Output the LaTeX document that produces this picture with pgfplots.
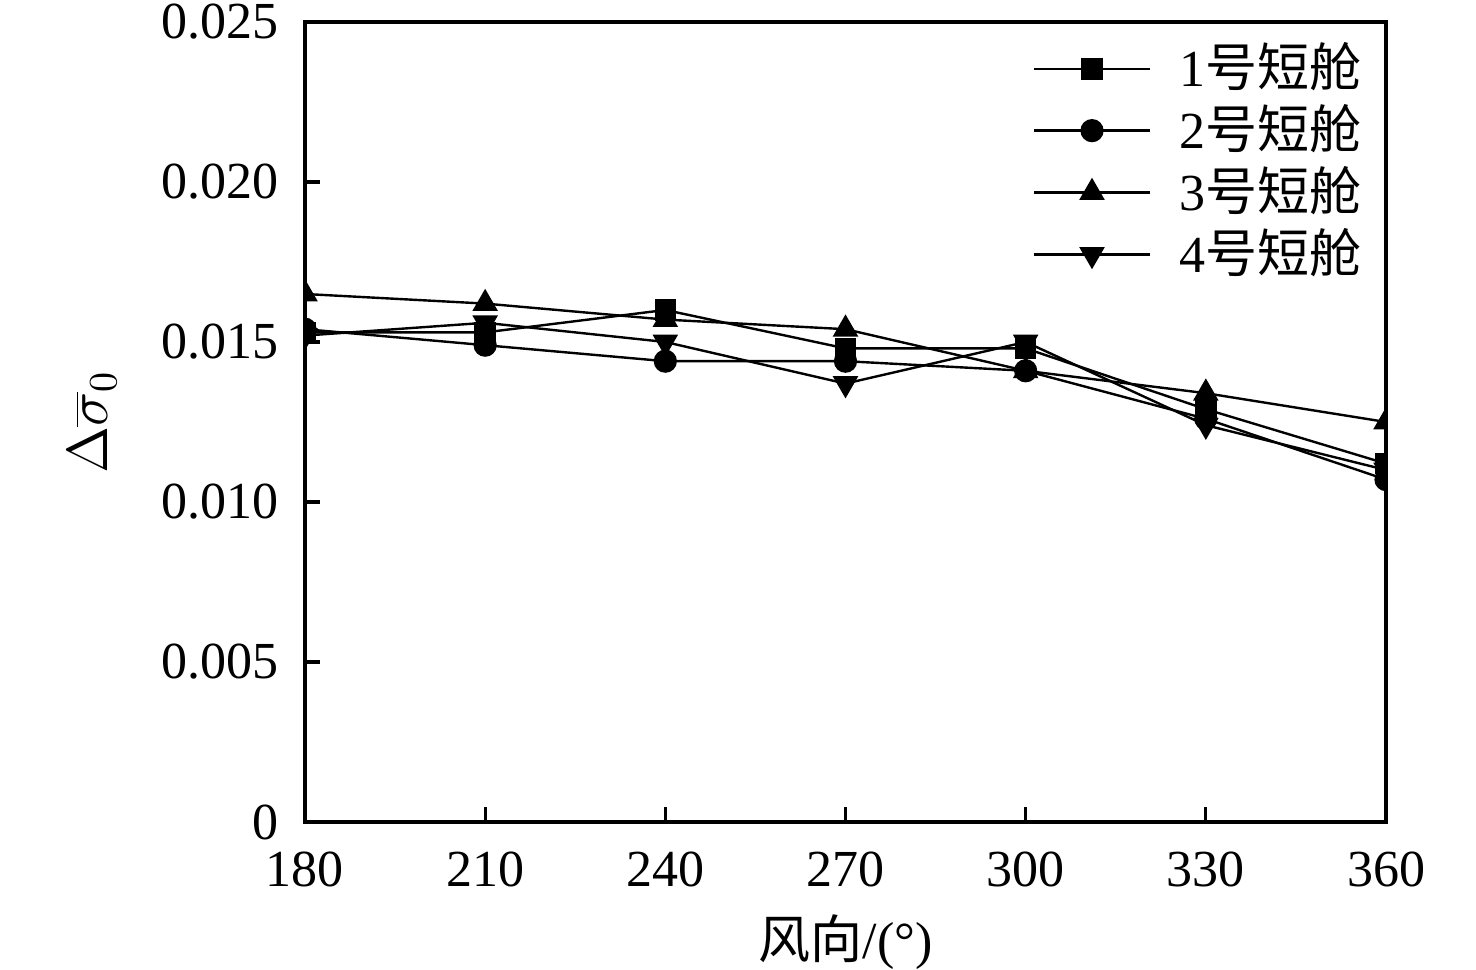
\documentclass[border=0pt]{standalone}
\usepackage{pgfplots}
\pgfplotsset{compat=1.18}
\usepackage{fontspec}
\setmainfont{Liberation Serif}
\newfontfamily\cjk{Noto Sans CJK SC}
\begin{document}
\fontsize{13}{15}\selectfont
\begin{tikzpicture}
\begin{axis}[
  at={(0,0)}, anchor=south west,
  scale only axis, width=270.25pt, height=200pt,
  xmin=180, xmax=360, ymin=0, ymax=0.025,
  xtick={180,210,240,270,300,330,360},
  xticklabels={180,210,240,270,300,330,360},
  ytick={0,0.005,0.010,0.015,0.020,0.025},
  yticklabels={0,0.005,0.010,0.015,0.020,0.025},
  scaled y ticks=false,
  tick align=inside, xtick pos=bottom, ytick pos=left,
  major tick length=3.75pt,
  clip marker paths=true, clip mode=individual,
  axis line style={line width=0.8pt}, tick style={line width=0.8pt, black},
  ticklabel style={font=\fontsize{13}{15}\selectfont},
  xticklabel style={yshift=-3pt},
  yticklabel style={xshift=-2pt},
  xlabel={{\cjk 风向}/(°)},
  ylabel={$\Delta\overline{\sigma}_0$},
  label style={font=\fontsize{13}{15}\selectfont},
  xlabel style={yshift=2pt},
  ylabel style={yshift=2.5pt, font=\fontsize{14}{16}\selectfont},
  every axis plot/.append style={black, line width=0.6pt, mark options={solid, fill=black}},
  legend cell align=left,
  legend style={at={(1,1)}, anchor=north east, xshift=-3pt, yshift=-2pt, draw=none, fill=none,
    font=\fontsize{13}{15}\selectfont, row sep=-1.5pt, inner sep=1pt,
    /tikz/every odd column/.append style={column sep=5pt}},
  legend image code/.code={\draw[mark repeat=2, mark phase=2, #1] plot coordinates {(0pt,0pt) (14.5pt,0pt) (29pt,0pt)};},
]
\addplot[mark=square*, mark size=2.4pt] coordinates {
(180,0.0153) (210,0.0153) (240,0.0160) (270,0.0148) (300,0.0148) (330,0.0129) (360,0.0112)};
\addlegendentry{1{\cjk 号短舱}}
\addplot[mark=*, mark size=2.6pt] coordinates {
(180,0.0154) (210,0.0149) (240,0.0144) (270,0.0144) (300,0.0141) (330,0.0126) (360,0.0107)};
\addlegendentry{2{\cjk 号短舱}}
\addplot[mark=triangle*, mark size=3.1pt] coordinates {
(180,0.0165) (210,0.0162) (240,0.0157) (270,0.0154) (300,0.0141) (330,0.0134) (360,0.0125)};
\addlegendentry{3{\cjk 号短舱}}
\addplot[mark=triangle*, mark size=3.1pt, mark options={rotate=180}] coordinates {
(180,0.0152) (210,0.0156) (240,0.0150) (270,0.0137) (300,0.0150) (330,0.0124) (360,0.0110)};
\addlegendentry{4{\cjk 号短舱}}
\end{axis}
\pgfresetboundingbox
\path (-76.25pt,-37pt) rectangle (292.75pt,205.5pt);
\end{tikzpicture}
\end{document}
